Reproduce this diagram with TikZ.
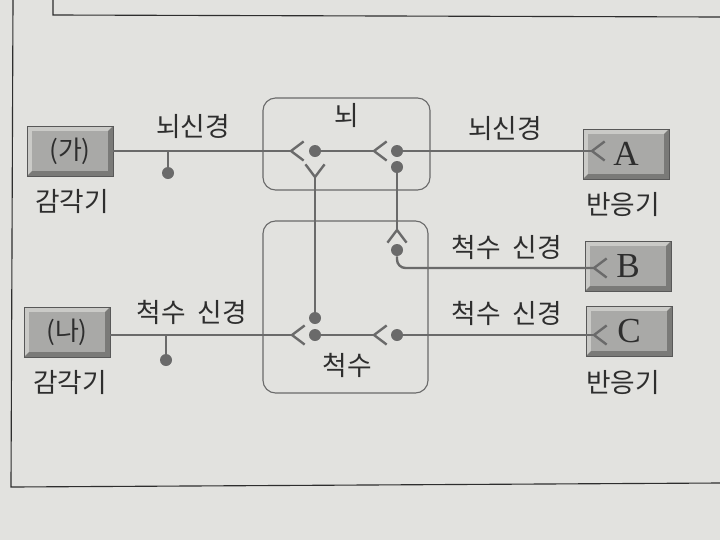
\documentclass[tikz,border=0pt]{standalone}
\usepackage{fontspec}
\setmainfont{Noto Sans CJK KR}
\newfontfamily\serifabc{Liberation Serif}
\usepackage{tikz}
\usetikzlibrary{positioning,calc}

\definecolor{paper}{HTML}{E2E2DF}
\definecolor{linegray}{HTML}{6A6A6A}
\definecolor{facegray}{HTML}{A9A9A7}
\definecolor{lightbevel}{HTML}{CACAC7}
\definecolor{darkbevel}{HTML}{7A7A78}
\definecolor{inkgray}{HTML}{2E2E2E}

\tikzset{
  nerve/.style={draw=linegray,line width=1.7pt},
  soma/.style={circle,fill=linegray,inner sep=0pt,minimum size=0.3cm},
  syn/.pic={\draw[nerve] (9pt,6.8pt) -- (0,0) -- (9pt,-6.8pt);},
  region/.style={draw=linegray,line width=0.8pt,rounded corners=9pt},
  lbl/.style={text=inkgray,font=\fontsize{19}{22}\selectfont,inner sep=1pt},
  organ/.style={draw=inkgray!80,line width=0.6pt,fill=lightbevel,
    minimum width=2.15cm,minimum height=1.25cm,text=inkgray,
    font=\fontsize{18.5}{21}\selectfont,
    path picture={
      \fill[darkbevel] (path picture bounding box.south west)
        -- (path picture bounding box.south east)
        -- (path picture bounding box.north east)
        -- ([shift={(-3.5pt,-3.5pt)}]path picture bounding box.north east)
        -- ([shift={(-3.5pt,3.5pt)}]path picture bounding box.south east)
        -- ([shift={(3.5pt,3.5pt)}]path picture bounding box.south west) -- cycle;
      \fill[facegray] ([shift={(3.5pt,3.5pt)}]path picture bounding box.south west)
        rectangle ([shift={(-3.5pt,-3.5pt)}]path picture bounding box.north east);
    }},
}

\begin{document}
\begin{tikzpicture}[x=0.025cm,y=-0.025cm]
    \fill[paper] (0,0) rectangle (720,540);
    \useasboundingbox (0,0) rectangle (720,540);
    % page frame
    \draw[inkgray,line width=0.8pt] (13,0) -- (11,487) -- (720,483);
    \draw[inkgray,line width=0.8pt] (53,0) -- (53,15) -- (720,17);

    % brain and spinal cord
    \node[region,minimum width=4.175cm,minimum height=2.3cm] (brain) at (346.5,144) {};
    \node[region,minimum width=4.125cm,minimum height=4.3cm] (spine) at (345.5,307) {};
    \node[lbl] (brainlbl) at (347,115) {뇌};
    \node[lbl] (spinelbl) at (347,365) {척수};

    % sense organs and effectors
    \node[organ] (ga) at (70,151) {(가)};
    \node[organ] (na) at (67,332) {(나)};
    \node[organ,font=\serifabc\fontsize{25}{27}\selectfont] (A) at (626,154) {A};
    \node[organ,font=\serifabc\fontsize{25}{27}\selectfont] (B) at (628,266) {B};
    \node[organ,font=\serifabc\fontsize{25}{27}\selectfont] (C) at (629,331) {C};

    \node[lbl] (sense1) at (72,201) {감각기};
    \node[lbl] (sense2) at (70,382) {감각기};
    \node[lbl] (eff1) at (623,204) {반응기};
    \node[lbl] (eff2) at (623,382) {반응기};
    \node[lbl] (n1) at (193,126) {뇌신경};
    \node[lbl] (n2) at (505,128) {뇌신경};
    \node[lbl] (n3) at (192,312) {척수\hspace{0.45em}신경};
    \node[lbl] (n4) at (507,247) {척수\hspace{0.45em}신경};
    \node[lbl] (n5) at (507,313) {척수\hspace{0.45em}신경};

    % cell bodies
    \node[soma] (b1) at (315,151) {};
    \node[soma] (b2) at (397,151) {};
    \node[soma] (b3) at (397,167) {};
    \node[soma] (b4) at (315,318) {};
    \node[soma] (b5) at (315,335) {};
    \node[soma] (b6) at (397,335) {};
    \node[soma] (b7) at (397,250) {};
    \node[soma] (s1) at (168,173) {};
    \node[soma] (s2) at (166,360) {};

    % synapse ends
    \coordinate (fb1) at (291,151);
    \coordinate (fb2) at (374,151);
    \coordinate (fA) at (592,151);
    \coordinate (fy) at (315,177);
    \coordinate (fu) at (397,230);
    \coordinate (fB) at (594,268);
    \coordinate (fs1) at (292,335);
    \coordinate (fs2) at (374,335);
    \coordinate (fC) at (594,335);
    \coordinate (t1) at (168,151);
    \coordinate (t2) at (166,335);

    \draw[nerve] (ga) -- (fb1);
    \draw[nerve] (t1) -- (s1);
    \draw[nerve] (b1) -- (fb2);
    \draw[nerve] (b2) -- (fA);
    \draw[nerve] (b3) -- (fu);
    \draw[nerve] (b4) -- (fy);
    \draw[nerve,rounded corners=6pt] (b7) |- (fB);
    \draw[nerve] (na.east |- fs1) -- (fs1);
    \draw[nerve] (t2) -- (s2);
    \draw[nerve] (b5) -- (fs2);
    \draw[nerve] (b6) -- (fC);

    \pic at (fb1) {syn};
    \pic at (fb2) {syn};
    \pic at (fA) {syn};
    \pic at (fs1) {syn};
    \pic at (fs2) {syn};
    \pic at (fB) {syn};
    \pic at (fC) {syn};
    \pic[rotate=90] at (fy) {syn};
    \pic[rotate=-90] at (fu) {syn};
\end{tikzpicture}
\end{document}
